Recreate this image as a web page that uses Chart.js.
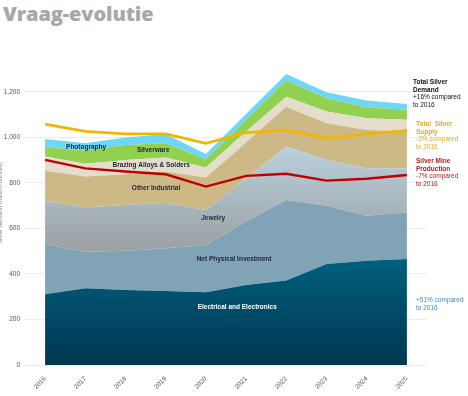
<!DOCTYPE html>
<html><head><meta charset="utf-8">
<script src="https://cdn.jsdelivr.net/npm/chart.js@4.4.1/dist/chart.umd.min.js"></script>
<style>
html,body{margin:0;padding:0;background:#fff;}
#wrap{position:relative;width:468px;height:396px;overflow:hidden;font-family:"Liberation Sans",Arial,sans-serif;}
#title{position:absolute;left:3px;top:0px;font-family:"Open Sans",sans-serif;font-weight:800;font-size:20px;color:#a8a8a8;letter-spacing:-0.1px;}
canvas{position:absolute;left:0;top:0;}
.note{position:absolute;font-size:6.5px;line-height:7.6px;}
.b{font-weight:bold;}
#ytitle{position:absolute;left:-46px;top:200px;width:92px;font-size:6px;color:#888;transform:rotate(-90deg);text-align:center;}
</style></head>
<body><div id="wrap">
<div id="title">Vraag-evolutie</div>
<canvas id="c" width="468" height="396"></canvas>
<div id="ytitle">Silver demand (Million ounces)</div>
<div class="note" style="left:413px;top:78px;color:#111;"><span class="b">Total Silver<br>Demand</span><br>+16% compared<br>to 2016</div>
<div class="note" style="left:416px;top:120px;color:#d9aa2a;"><span class="b">Total &nbsp;Silver<br>Supply</span><br>-3% compared<br>to 2016</div>
<div class="note" style="left:416px;top:157px;color:#b01e1e;"><span class="b">Silver Mine<br>Production</span><br>-7% compared<br>to 2016</div>
<div class="note" style="left:416px;top:296px;color:#3d87bd;">+51% compared<br>to 2016</div>
</div>
<script>
const years = ["2016","2017","2018","2019","2020","2021","2022","2023","2024","2025"];
const electrical = [311,337,330,325,320,352,371,444,458,466];
const netPhysical = [221,161,172,188,207,278,354,256,198,204];
const jewelry = [189,194,201,200,154,190,235,201,208,194];
const otherIndustrial = [132,136,135,137,143,158,175,161,169,162];
const brazing = [63,56,63,62,44,48,44,52,51,51];
const silverware = [41,58,66,62,36,50,71,58,47,44];
const photography = [36,32,33,41,23,27,29,26,31,26];
const totalSupply = [1058,1026,1015,1015,974,1021,1033,996,1015,1030];
const mineProduction = [901,864,850,838,784,831,840,810,818,835];
const yTicks = [0,200,400,600,800,1000,1200];

const areaLabels = [
  {text:"Photography", x:1.02, y:958, color:"#1c2540"},
  {text:"Silverware", x:2.69, y:945, color:"#1c2540"},
  {text:"Brazing Alloys & Solders", x:2.64, y:879, color:"#1c2540"},
  {text:"Other Industrial", x:2.76, y:778, color:"#1c2540"},
  {text:"Jewelry", x:4.18, y:646, color:"#1c2540"},
  {text:"Net Physical Investment", x:4.70, y:466, color:"#1c2540"},
  {text:"Electrical and Electronics", x:4.78, y:255, color:"#ffffff"}
];

function grad(ctx, y0, c0, y1, c1){
  const chart = ctx.chart;
  if(!chart.chartArea) return c0;
  const ys = chart.scales.y;
  const g = chart.ctx.createLinearGradient(0, ys.getPixelForValue(y0), 0, ys.getPixelForValue(y1));
  g.addColorStop(0, c0); g.addColorStop(1, c1);
  return g;
}

const labelPlugin = {
  id:'areaLabels',
  afterDatasetsDraw(chart){
    const c = chart.ctx, xs = chart.scales.x, ys = chart.scales.y;
    c.save();
    c.font = 'bold 6.5px "Liberation Sans", Arial, sans-serif';
    c.textAlign = 'center'; c.textBaseline = 'middle';
    areaLabels.forEach(l=>{
      c.fillStyle = l.color;
      c.fillText(l.text, xs.getPixelForValue(l.x), ys.getPixelForValue(l.y));
    });
    c.restore();
  }
};

function area(label, data, fill, color){
  return {type:'line', label, data, fill, backgroundColor:color, borderWidth:0, pointRadius:0, tension:0, order:1, yAxisID:'y'};
}

new Chart(document.getElementById('c'), {
  type:'line',
  data:{
    labels: years,
    datasets:[
      area("Electrical and Electronics", electrical, 'origin', ctx=>grad(ctx, 470, '#00607f', 0, '#003750')),
      area("Net Physical Investment", netPhysical, '-1', '#80a4b6'),
      area("Jewelry", jewelry, '-1', ctx=>grad(ctx, 950, '#b9cfdb', 520, '#9da2a5')),
      area("Other Industrial", otherIndustrial, '-1', '#cdb985'),
      area("Brazing Alloys & Solders", brazing, '-1', '#e4ddcc'),
      area("Silverware", silverware, '-1', '#92d050'),
      area("Photography", photography, '-1', '#6ed6f6'),
      {type:'line', label:'Total Silver Supply', data: totalSupply, fill:false, borderColor:'#f2b600', borderWidth:2.8, pointRadius:0, tension:0, order:0, yAxisID:'y2'},
      {type:'line', label:'Silver Mine Production', data: mineProduction, fill:false, borderColor:'#c00000', borderWidth:2.4, pointRadius:0, tension:0, order:0, yAxisID:'y2'}
    ]
  },
  options:{
    responsive:false, animation:false,
    layout:{padding:{top:60, right:41, left:0, bottom:0}},
    plugins:{legend:{display:false}, tooltip:{enabled:false}},
    scales:{
      x:{offset:true, grid:{display:false}, border:{display:false},
         ticks:{minRotation:45, maxRotation:45, font:{size:6.5, family:'"Liberation Sans", Arial'}, color:'#555', padding:2},
         afterFit(s){ s.height = 31; }},
      y:{stacked:true, min:0, max:1340, border:{display:false},
         grid:{color:'#ececec', drawTicks:false, lineWidth:1},
         afterBuildTicks(s){ s.ticks = yTicks.map(v=>({value:v})); },
         ticks:{font:{size:6.5, family:'"Liberation Sans", Arial'}, color:'#555', padding:5,
           callback:v=>v.toLocaleString('en-US')},
         afterFit(s){ s.width = 25; }},
      y2:{display:false, min:0, max:1340}
    }
  },
  plugins:[labelPlugin]
});
</script>
</body></html>
